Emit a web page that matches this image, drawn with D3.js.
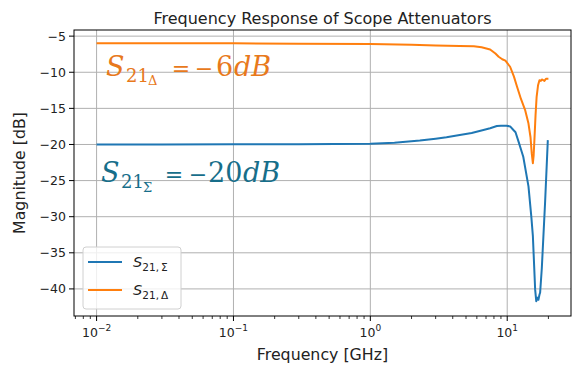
<!DOCTYPE html>
<html><head><meta charset="utf-8">
<script src="https://cdn.jsdelivr.net/npm/d3@7"></script>
<style>
html,body{margin:0;padding:0;background:#fff;}
svg{display:block;}
</style></head>
<body>
<svg id="chart" width="572" height="366"></svg>
<script>
// ---- data ----
const freqSigma = [0.01, 0.03, 0.1, 0.3, 1.0, 1.5, 2.3, 3.0, 3.6, 4.5, 5.5, 6.7, 7.5, 8.4, 9.0, 9.9, 10.5, 11.1, 11.5, 12.1, 13.1, 14.3, 15.0, 15.4, 16.0, 16.3, 16.6, 16.9, 17.2, 17.4, 17.9, 18.9, 19.8];
const magSigma  = [-20.0, -20.0, -19.98, -19.97, -19.9, -19.75, -19.46, -19.2, -19.0, -18.7, -18.4, -18.0, -17.75, -17.45, -17.4, -17.4, -17.5, -18.0, -18.3, -19.6, -21.7, -25.8, -30.0, -32.7, -40.1, -41.7, -41.2, -41.5, -40.8, -40.5, -37.1, -28.1, -19.4];
const freqDelta = [0.01, 0.1, 0.3, 1.0, 2.0, 3.0, 4.5, 5.7, 6.5, 7.5, 8.2, 8.66, 9.2, 9.7, 10.5, 11.2, 11.8, 12.6, 13.5, 14.3, 14.8, 15.1, 15.4, 15.6, 15.8, 16.1, 16.4, 16.8, 17.2, 17.6, 17.9, 18.3, 18.7, 19.2, 20.0];
const magDelta  = [-6.0, -6.0, -6.05, -6.1, -6.2, -6.28, -6.35, -6.4, -6.55, -6.84, -7.4, -7.86, -8.2, -8.4, -9.24, -10.6, -12.0, -13.7, -15.2, -17.1, -19.0, -21.2, -22.6, -21.5, -19.4, -16.0, -13.4, -11.8, -11.1, -11.2, -11.0, -11.1, -11.2, -10.9, -10.9];
const yTicks = [-5, -10, -15, -20, -25, -30, -35, -40];
const xTickExps = [-2, -1, 0, 1];
const seriesNames = ["Σ", "Δ"];
const titleText = "Frequency Response of Scope Attenuators";
const xLabel = "Frequency [GHz]";
const yLabel = "Magnitude [dB]";

// ---- layout ----
const L = 74, R = 571, T = 30, B = 316;
const svg = d3.select("#chart");
const x = d3.scaleLog().domain([Math.pow(10, -2.165), Math.pow(10, 1.466)]).range([L, R]);
const y = d3.scaleLinear().domain([-43.75, -4.15]).range([B, T]);
const blue = "#1f77b4", orange = "#ff7f0e";
const font = "'DejaVu Sans', sans-serif";

// grid
const g = svg.append("g");
g.selectAll(".gx").data(xTickExps).enter().append("line")
  .attr("x1", d => x(Math.pow(10, d))).attr("x2", d => x(Math.pow(10, d)))
  .attr("y1", T).attr("y2", B).attr("stroke", "#b0b0b0").attr("stroke-width", 1);
g.selectAll(".gy").data(yTicks).enter().append("line")
  .attr("x1", L).attr("x2", R).attr("y1", d => y(d)).attr("y2", d => y(d))
  .attr("stroke", "#b0b0b0").attr("stroke-width", 1);

// lines
const line = d3.line().x(d => x(d[0])).y(d => y(d[1]));
svg.append("path").datum(d3.zip(freqSigma, magSigma)).attr("d", line)
  .attr("fill", "none").attr("stroke", blue).attr("stroke-width", 2).attr("stroke-linejoin", "round");
svg.append("path").datum(d3.zip(freqDelta, magDelta)).attr("d", line)
  .attr("fill", "none").attr("stroke", orange).attr("stroke-width", 2).attr("stroke-linejoin", "round");

// annotations
function eq(color, baseY, parts) {
  const t = svg.append("g").attr("fill", color).attr("font-family", "'DejaVu Serif', serif");
  parts.forEach(p => {
    t.append("text").attr("x", p.x).attr("y", baseY + (p.dy || 0))
      .attr("font-size", p.s).attr("font-style", p.it ? "italic" : "normal")
      .attr("text-anchor", p.a || "start")
      .text(p.t);
  });
}
eq("#e8791c", 76, [
  {t: "S", x: 106, s: 27, it: true},
  {t: "21", x: 126, s: 18, dy: 6},
  {t: "Δ", x: 148, s: 13, dy: 9},
  {t: "=", x: 181, s: 22, a: "middle"},
  {t: "−", x: 204, s: 22, a: "middle"},
  {t: "6", x: 216, s: 27},
  {t: "dB", x: 234, s: 27, it: true}
]);
eq("#176e8a", 182, [
  {t: "S", x: 101, s: 27, it: true},
  {t: "21", x: 121, s: 18, dy: 6},
  {t: "Σ", x: 143, s: 13, dy: 10},
  {t: "=", x: 174, s: 22, a: "middle"},
  {t: "−", x: 198, s: 22, a: "middle"},
  {t: "20", x: 208, s: 27},
  {t: "dB", x: 243, s: 27, it: true}
]);

// axes frame
svg.append("rect").attr("x", L).attr("y", T).attr("width", R - L).attr("height", B - T)
  .attr("fill", "none").attr("stroke", "#000").attr("stroke-width", 1);

// y ticks
const yt = svg.append("g");
yTicks.forEach(v => {
  yt.append("line").attr("x1", L - 5).attr("x2", L).attr("y1", y(v)).attr("y2", y(v)).attr("stroke", "#000");
  yt.append("text").attr("x", L - 8).attr("y", y(v)).attr("dy", "0.36em").attr("text-anchor", "end")
    .attr("font-family", font).attr("font-size", 12.5).attr("fill", "#222").text("−" + Math.abs(v));
});

// x ticks (major + minor)
const xt = svg.append("g");
for (let e = -3; e <= 1; e++) {
  for (let m = 1; m <= 9; m++) {
    const f = m * Math.pow(10, e);
    const px = x(f);
    if (px < L - 0.1 || px > R + 0.1) continue;
    xt.append("line").attr("x1", px).attr("x2", px).attr("y1", B).attr("y2", B + (m === 1 ? 5 : 3)).attr("stroke", "#000").attr("stroke-width", m === 1 ? 1 : 0.8);
  }
}
xTickExps.forEach(e => {
  const tx = xt.append("text").attr("x", x(Math.pow(10, e))).attr("y", 337).attr("text-anchor", "middle")
    .attr("font-family", font).attr("fill", "#222").attr("font-size", 12.5);
  tx.append("tspan").text("10");
  tx.append("tspan").attr("font-size", 9).attr("dy", -6).text(e < 0 ? "−" + Math.abs(e) : String(e));
});

// labels and title
svg.append("text").attr("x", (L + R) / 2).attr("y", 360).attr("text-anchor", "middle")
  .attr("font-family", font).attr("font-size", 15.8).attr("fill", "#222").text(xLabel);
svg.append("text").attr("transform", `translate(25,${(T + B) / 2}) rotate(-90)`).attr("text-anchor", "middle")
  .attr("font-family", font).attr("font-size", 15.8).attr("fill", "#222").text(yLabel);
svg.append("text").attr("x", (L + R) / 2).attr("y", 24).attr("text-anchor", "middle")
  .attr("font-family", font).attr("font-size", 16).attr("fill", "#222").text(titleText);

// legend
const lg = svg.append("g");
lg.append("rect").attr("x", 83).attr("y", 247).attr("width", 98).attr("height", 62).attr("rx", 3)
  .attr("fill", "#fff").attr("fill-opacity", 0.8).attr("stroke", "#d0d0d0").attr("stroke-width", 1);
[blue, orange].forEach((c, i) => {
  const ly = 262 + i * 28;
  lg.append("line").attr("x1", 88).attr("x2", 122).attr("y1", ly).attr("y2", ly).attr("stroke", c).attr("stroke-width", 2);
  const t = lg.append("text").attr("x", 133).attr("y", ly + 5).attr("font-family", font).attr("fill", "#222");
  t.append("tspan").attr("font-style", "italic").attr("font-size", 14.6).text("S");
  t.append("tspan").attr("font-size", 10.5).attr("dy", 4).text("21,\u2009" + seriesNames[i]);
});
</script>
</body></html>
